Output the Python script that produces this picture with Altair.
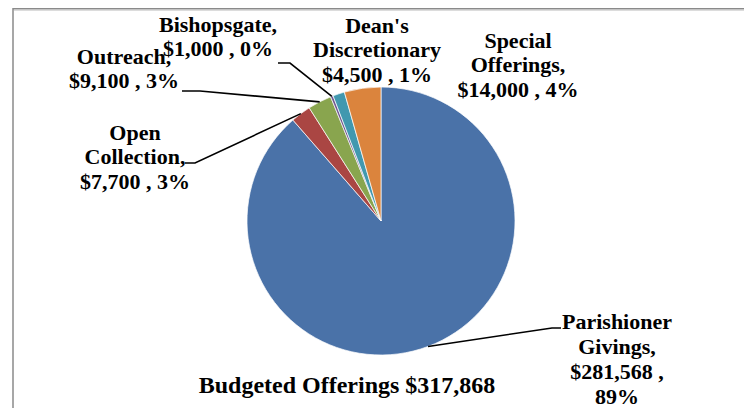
import altair as alt
import pandas as pd
import numpy as np

# ---- data ----
categories = ["Parishioner Givings", "Open Collection", "Outreach",
              "Bishopsgate", "Dean's Discretionary", "Special Offerings"]
amounts = [281568, 7700, 9100, 1000, 4500, 14000]
percents = [89, 3, 3, 0, 1, 4]
title_text = "Budgeted Offerings $317,868"

# ---- styles / layout ----
colors = ["#4A72A8", "#AA4643", "#89A54E", "#71588F", "#4198AF", "#DB843D"]
W, H = 736, 400
CX, CY, R = 373, 213, 134
FONT = "Liberation Serif"
FS = 22

# label layout: centre x, top y, words per line, comma after name, leader path (elbow, end)
layout = {
    "Parishioner Givings": dict(x=609, y=304.3, wrap=[1, 1, 2, 1], comma=True, leader=[(544, 320), (553, 320)]),
    "Open Collection": dict(x=127, y=114.6, wrap=[1, 1, 3], comma=True, leader=[(187, 155), (177, 155)]),
    "Outreach": dict(x=116, y=38.6, wrap=[1, 3], comma=True, leader=[(192, 83), (174, 83)]),
    "Bishopsgate": dict(x=210, y=6.6, wrap=[1, 3], comma=True, leader=[(282, 55), (270, 55)]),
    "Dean's Discretionary": dict(x=369, y=7.6, wrap=[1, 1, 3], comma=False, leader=None),
    "Special Offerings": dict(x=510, y=22.6, wrap=[1, 1, 3], comma=True, leader=None),
}

df = pd.DataFrame({"category": categories, "amount": amounts,
                   "pct": percents, "idx": list(range(len(categories)))})

# label texts
rows = []
for c, a, p in zip(categories, amounts, percents):
    L = layout[c]
    full = f"{c}{',' if L['comma'] else ''} ${a:,} , {p}%"
    words = full.split(" ")
    lines, k = [], 0
    for n in L["wrap"]:
        lines.append(" ".join(words[k:k + n]))
        k += n
    rows.append({"label": "\n".join(lines), "lx": L["x"], "ly": L["y"]})
labels_df = pd.DataFrame(rows)

# leader lines: start on the pie edge at each slice's mid angle
total = float(sum(amounts))
cum = np.cumsum([0] + amounts[:-1]) / total
mid = (cum + np.array(amounts) / total / 2) * 2 * np.pi
lrows = []
for i, c in enumerate(categories):
    L = layout[c]
    if L["leader"] is None:
        continue
    pts = [(CX + R * np.sin(mid[i]), CY - R * np.cos(mid[i]))] + L["leader"]
    for j, (px, py) in enumerate(pts):
        lrows.append({"g": c, "o": j, "px": px, "py": py})
leader_df = pd.DataFrame(lrows)

xs = alt.Scale(domain=[0, W], nice=False, zero=False)
ys = alt.Scale(domain=[H, 0], nice=False, zero=False)

pie = alt.Chart(df).mark_arc(outerRadius=R, stroke="white", strokeWidth=0.7).encode(
    theta=alt.Theta("amount:Q", stack=True),
    color=alt.Color("category:N", scale=alt.Scale(domain=categories, range=colors), legend=None),
    order=alt.Order("idx:Q"),
    x=alt.value(CX), y=alt.value(CY),
)

leaders = alt.Chart(leader_df).mark_line(color="black", strokeWidth=1.6).encode(
    x=alt.X("px:Q", scale=xs, axis=None),
    y=alt.Y("py:Q", scale=ys, axis=None),
    detail="g:N",
    order="o:Q",
)

labels = alt.Chart(labels_df).mark_text(
    lineBreak="\n", align="center", baseline="top", font=FONT, fontWeight="bold",
    fontSize=FS, lineHeight=24.8, color="black",
).encode(
    x=alt.X("lx:Q", scale=xs, axis=None),
    y=alt.Y("ly:Q", scale=ys, axis=None),
    text="label:N",
)

title = alt.Chart(pd.DataFrame({"t": [title_text], "tx": [339], "ty": [385]})).mark_text(
    align="center", baseline="alphabetic", font=FONT, fontWeight="bold", fontSize=24, color="black",
).encode(
    x=alt.X("tx:Q", scale=xs, axis=None),
    y=alt.Y("ty:Q", scale=ys, axis=None),
    text="t:N",
)

one = pd.DataFrame({"a": [0]})
border_top = alt.Chart(one).mark_rule(color="#8a8a8a", strokeWidth=2).encode(
    x=alt.value(5), x2=alt.value(W), y=alt.value(0.5), y2=alt.value(0.5))
border_top2 = alt.Chart(one).mark_rule(color="#dcdcdc", strokeWidth=1).encode(
    x=alt.value(6), x2=alt.value(W), y=alt.value(2.5), y2=alt.value(2.5))
border_left = alt.Chart(one).mark_rule(color="#8a8a8a", strokeWidth=1.5).encode(
    x=alt.value(5), x2=alt.value(5), y=alt.value(0), y2=alt.value(H))

chart = alt.layer(border_top, border_top2, border_left, pie, leaders, labels, title).properties(
    width=W, height=H,
    autosize=alt.AutoSizeParams(type="none"),
    padding=0,
    background="white",
).configure_view(stroke=None)

chart.save("out.html", embed_options={"renderer": "svg", "actions": False})
